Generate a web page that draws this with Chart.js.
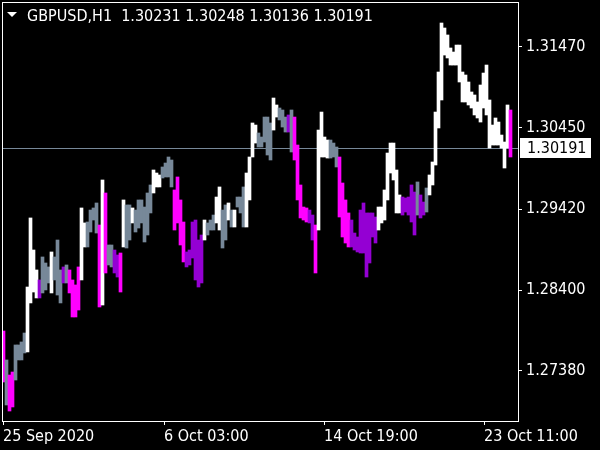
<!DOCTYPE html>
<html>
<head>
<meta charset="utf-8">
<script src="https://cdn.jsdelivr.net/npm/chart.js@4.4.1/dist/chart.umd.min.js"></script>
<style>
  html, body { margin: 0; padding: 0; background: #000; }
  #wrap { width: 600px; height: 450px; }
</style>
</head>
<body>
<div id="wrap"><canvas id="chart" width="600" height="450"></canvas></div>
<script>
const symbol = 'GBPUSD,H1';
const lastOHLC = [1.30231, 1.30248, 1.30136, 1.30191];
const priceTicks = [1.31470, 1.30450, 1.29420, 1.28400, 1.27380];
const timeTicks = [0, 161, 321, 481];
const timeLabels = ['25 Sep 2020', '6 Oct 03:00', '14 Oct 19:00', '23 Oct 11:00'];
const barHours = 3; // each drawn bar groups three H1 bars

const highs = [
  1.27884, 1.27519, 1.27329, 1.27367, 1.27708, 1.27708, 1.27746, 1.27859, 1.28439, 1.29310,
  1.28906, 1.28654, 1.28528, 1.28818, 1.28742, 1.28692, 1.28881, 1.28818, 1.29032, 1.28654,
  1.28692, 1.28717, 1.28654, 1.28528, 1.28465, 1.28692, 1.29436, 1.29247, 1.29259, 1.29410,
  1.29436, 1.29499, 1.29221, 1.29789, 1.29625, 1.28969, 1.28969, 1.28906, 1.28843, 1.28868,
  1.29537, 1.29474, 1.29474, 1.29436, 1.29410, 1.29537, 1.29537, 1.29448, 1.29625, 1.29726,
  1.29915, 1.29877, 1.29852, 1.29953, 1.30003, 1.30079, 1.30041, 1.29663, 1.29827, 1.29537,
  1.29259, 1.28881, 1.28906, 1.29259, 1.29284, 1.29032, 1.29095, 1.29284, 1.29247, 1.29284,
  1.29347, 1.29574, 1.29701, 1.29410, 1.29474, 1.29499, 1.29410, 1.29410, 1.29574, 1.29574,
  1.29701, 1.29877, 1.30079, 1.30508, 1.30482, 1.30382, 1.30331, 1.30583, 1.30583, 1.30508,
  1.30823, 1.30735, 1.30697, 1.30672, 1.30583, 1.30609, 1.30672, 1.30583, 1.30230, 1.29726,
  1.29448, 1.29436, 1.29410, 1.29347, 1.29221, 1.30419, 1.30646, 1.30331, 1.30293, 1.30293,
  1.30255, 1.30205, 1.30079, 1.29751, 1.29537, 1.29373, 1.29284, 1.29120, 1.29070, 1.29410,
  1.29499, 1.29373, 1.29373, 1.29373, 1.29322, 1.29448, 1.29448, 1.29663, 1.30129, 1.30255,
  1.30255, 1.29915, 1.29600, 1.29574, 1.29562, 1.29574, 1.29726, 1.29637, 1.29764, 1.29600,
  1.29511, 1.29688, 1.29852, 1.30016, 1.30646, 1.31151, 1.31769, 1.31706, 1.31618, 1.31454,
  1.31403, 1.31491, 1.31491, 1.31151, 1.31113, 1.31025, 1.30899, 1.30861, 1.30773, 1.30987,
  1.31138, 1.31239, 1.30798, 1.30482, 1.30571, 1.30520, 1.30356, 1.30268, 1.30735, 1.30672
];
const lows = [
  1.27241, 1.26951, 1.26875, 1.26926, 1.27266, 1.27519, 1.27519, 1.27607, 1.27620, 1.28238,
  1.28376, 1.28301, 1.28301, 1.28364, 1.28402, 1.28490, 1.28364, 1.28528, 1.28338, 1.28238,
  1.28490, 1.28490, 1.28364, 1.28061, 1.28061, 1.28149, 1.28528, 1.28944, 1.28944, 1.29133,
  1.29284, 1.29120, 1.28187, 1.28212, 1.28616, 1.28717, 1.28692, 1.28616, 1.28565, 1.28376,
  1.28944, 1.28931, 1.29032, 1.29247, 1.29133, 1.29183, 1.29247, 1.29007, 1.29095, 1.29373,
  1.29625, 1.29701, 1.29701, 1.29814, 1.29827, 1.29827, 1.29701, 1.29158, 1.29247, 1.28969,
  1.28755, 1.28692, 1.28717, 1.28805, 1.28528, 1.28439, 1.28490, 1.29032, 1.29095, 1.29158,
  1.29158, 1.29247, 1.29158, 1.28931, 1.29032, 1.29284, 1.29196, 1.29196, 1.29448, 1.29373,
  1.29196, 1.29196, 1.29537, 1.30079, 1.30255, 1.30205, 1.30205, 1.30268, 1.30104, 1.30041,
  1.30419, 1.30583, 1.30546, 1.30457, 1.30394, 1.30394, 1.30142, 1.30041, 1.29537, 1.29310,
  1.29284, 1.29259, 1.29247, 1.29032, 1.28616, 1.29158, 1.30079, 1.30079, 1.30066, 1.30066,
  1.30079, 1.29953, 1.29322, 1.29070, 1.28994, 1.28944, 1.28944, 1.28906, 1.28881, 1.28868,
  1.28868, 1.28565, 1.28742, 1.29070, 1.28994, 1.29158, 1.29247, 1.29284, 1.29537, 1.29877,
  1.29789, 1.29373, 1.29373, 1.29347, 1.29385, 1.29347, 1.29259, 1.29095, 1.29347, 1.29310,
  1.29347, 1.29385, 1.29600, 1.29726, 1.29978, 1.30445, 1.30798, 1.31365, 1.31328, 1.31239,
  1.31239, 1.31239, 1.31025, 1.30773, 1.30773, 1.30735, 1.30697, 1.30609, 1.30571, 1.30520,
  1.30697, 1.30609, 1.30192, 1.30230, 1.30230, 1.30230, 1.30192, 1.29940, 1.30192, 1.30079
];
// w = white, g = grey, m = magenta, v = violet
const kinds = (
  'mgmmggggww' + 'wwvgggwggg' + 'vgmmmmwwgg' + 'ggmwmggvvm' + 'wggwgggggg' +
  'wwwggggmmm' + 'mvvvvvvwgg' + 'gwwggwgwgg' + 'gwwwwggggg' + 'wwgggvgmmm' +
  'mmvvmwwwwg' + 'ggmmmmvvvv' + 'vvvvvwwwww' + 'wwwvvvvvgv' + 'vgwwwwwwww' +
  'wwwwwwwwww' + 'wwwwwwwwwm'
).split('');

const palette = { w: '#ffffff', g: '#778899', m: '#ff00ff', v: '#9400d3' };
const fontFamily = '"DejaVu Sans Condensed", "DejaVu Sans", sans-serif';
const fontSize = 16;

const mtFrame = {
  id: 'mtFrame',
  beforeDatasetsDraw(chart) {
    const { ctx, chartArea: a, scales } = chart;
    const y = Math.round(scales.y.getPixelForValue(lastOHLC[3])) + 0.5;
    ctx.save();
    ctx.strokeStyle = '#778899';
    ctx.lineWidth = 1;
    ctx.beginPath();
    ctx.moveTo(a.left, y);
    ctx.lineTo(a.right, y);
    ctx.stroke();
    ctx.restore();
  },
  afterDraw(chart) {
    const { ctx, chartArea: a, scales } = chart;
    ctx.save();
    // frame
    ctx.strokeStyle = '#ffffff';
    ctx.lineWidth = 1;
    ctx.strokeRect(a.left + 0.5, a.top + 0.5, a.right - a.left, a.bottom - a.top);

    // symbol line
    ctx.fillStyle = '#ffffff';
    ctx.beginPath();
    ctx.moveTo(7, 12);
    ctx.lineTo(17, 12);
    ctx.lineTo(12, 17);
    ctx.closePath();
    ctx.fill();
    ctx.font = fontSize + 'px ' + fontFamily;
    ctx.textBaseline = 'alphabetic';
    ctx.textAlign = 'left';
    ctx.fillText(symbol + '  ' + lastOHLC.map(v => v.toFixed(5)).join(' '), 27, 21);

    // last price box
    const y = Math.round(scales.y.getPixelForValue(lastOHLC[3]));
    ctx.fillStyle = '#ffffff';
    ctx.fillRect(a.right + 2, y - 10, 71, 20);
    ctx.fillStyle = '#000000';
    ctx.textBaseline = 'middle';
    ctx.fillText(lastOHLC[3].toFixed(5), a.right + 9, y + 1);
    ctx.restore();
  }
};

const ctx = document.getElementById('chart').getContext('2d');
new Chart(ctx, {
  type: 'bar',
  data: {
    datasets: [{
      data: highs.map((h, i) => ({ x: i * barHours + 0.5, y: [lows[i], h] })),
      backgroundColor: kinds.map(k => palette[k]),
      borderWidth: 0,
      barThickness: barHours
    }]
  },
  options: {
    responsive: false,
    animation: false,
    layout: { padding: { left: 2, top: 2, right: 0, bottom: 0 } },
    plugins: { legend: { display: false }, tooltip: { enabled: false } },
    scales: {
      x: {
        type: 'linear',
        min: -1,
        max: 515,
        offset: false,
        afterBuildTicks: s => { s.ticks = timeTicks.map(v => ({ value: v })); },
        afterFit: s => { s.height = 29; s.paddingLeft = 0; s.paddingRight = 0; },
        ticks: {
          callback: (v, i) => timeLabels[i],
          color: '#ffffff',
          font: { family: fontFamily, size: fontSize },
          align: 'start',
          maxRotation: 0,
          autoSkip: false,
          padding: 2
        },
        grid: { drawOnChartArea: false, offset: false, color: '#ffffff', tickLength: 4 },
        border: { display: false }
      },
      y: {
        position: 'right',
        min: 1.26749,
        max: 1.32034,
        afterBuildTicks: s => { s.ticks = priceTicks.map(v => ({ value: v })); },
        afterFit: s => { s.width = 82; s.paddingTop = 0; s.paddingBottom = 0; },
        ticks: {
          callback: v => v.toFixed(5),
          color: '#ffffff',
          font: { family: fontFamily, size: fontSize },
          padding: 4
        },
        grid: { drawOnChartArea: false, color: '#ffffff', tickLength: 4 },
        border: { display: false }
      }
    }
  },
  plugins: [mtFrame]
});
</script>
</body>
</html>
